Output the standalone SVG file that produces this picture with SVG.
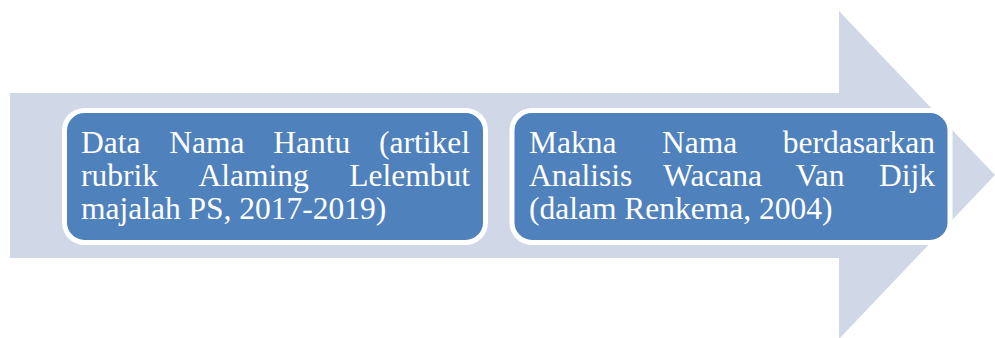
<svg xmlns="http://www.w3.org/2000/svg" width="995" height="338" viewBox="0 0 995 338">
  <style>
    .box { fill: #4F81BD; stroke: #FFFFFF; stroke-width: 5; }
    .t { font-family: "Liberation Serif", "Times New Roman", serif; font-size: 31.5px; fill: #FFFFFF; }
    .e { text-anchor: end; }
  </style>
  <g id="arrow">
    <polygon points="10,93 839,93 839,11 995,175 839,339 839,258 10,258" fill="#D0D8E8"/>
  </g>
  <g id="connectors"></g>
  <g id="node1">
    <rect class="box" x="64.5" y="110.5" width="421" height="132" rx="20" ry="20"/>
    <text class="t" x="81" y="152.5">Data</text>
    <text class="t" x="169.3" y="152.5">Nama</text>
    <text class="t" x="273.3" y="152.5">Hantu</text>
    <text class="t e" x="470" y="152.5">(artikel</text>
    <text class="t" x="81" y="185.5">rubrik</text>
    <text class="t" x="198.5" y="185.5">Alaming</text>
    <text class="t e" x="470" y="185.5">Lelembut</text>
    <text class="t" x="81" y="218.5">majalah PS, 2017-2019)</text>
  </g>
  <g id="node2">
    <rect class="box" x="512" y="110.5" width="438" height="132" rx="20" ry="20"/>
    <text class="t" x="529" y="152.5">Makna</text>
    <text class="t" x="662" y="152.5">Nama</text>
    <text class="t e" x="935" y="152.5">berdasarkan</text>
    <text class="t" x="529" y="185.5">Analisis</text>
    <text class="t" x="663.2" y="185.5">Wacana</text>
    <text class="t" x="795.5" y="185.5">Van</text>
    <text class="t e" x="935" y="185.5">Dijk</text>
    <text class="t" x="529" y="218.5">(dalam Renkema, 2004)</text>
  </g>
</svg>
